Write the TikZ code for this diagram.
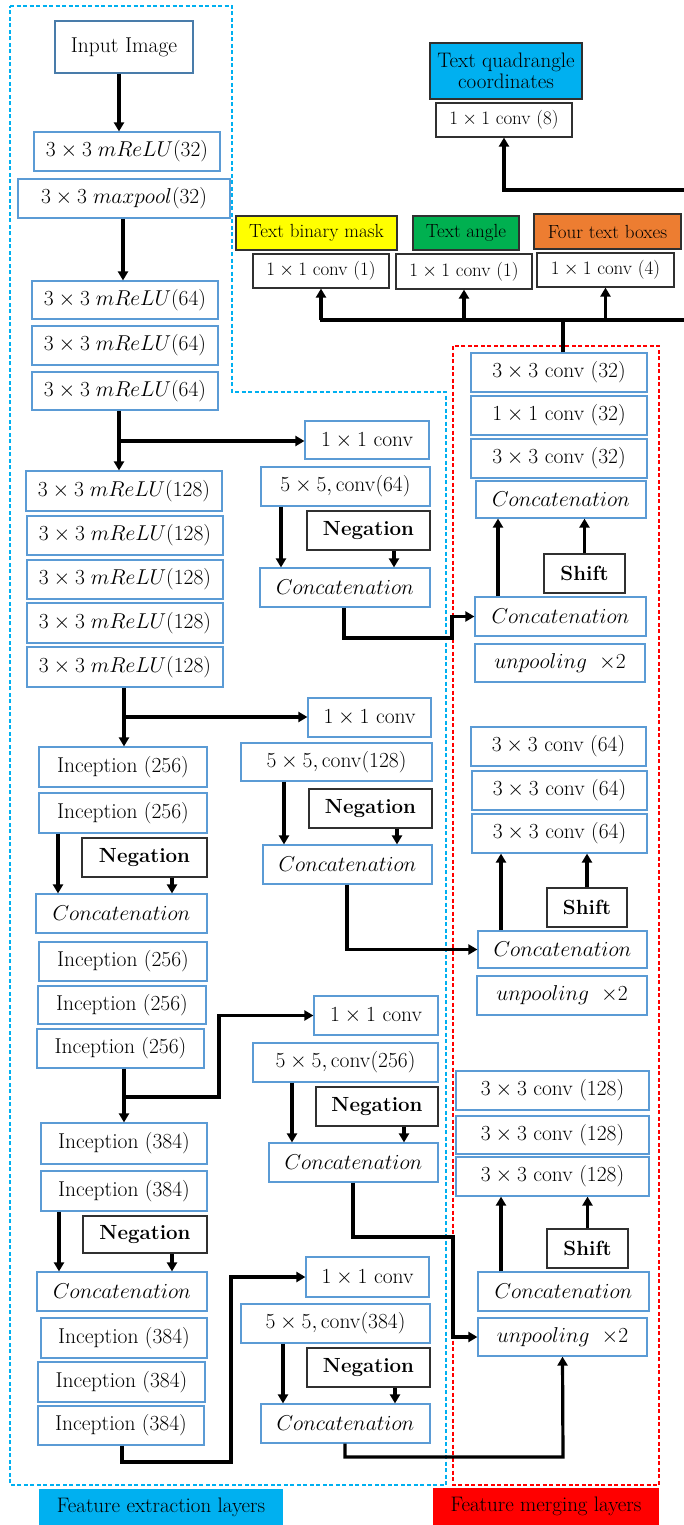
\RequirePackage{fix-cm}
\documentclass[tikz,border=0pt]{standalone}
\usetikzlibrary{arrows.meta}
\definecolor{bluebd}{HTML}{5B9BD5}
\definecolor{cyanfill}{HTML}{00B0F0}
\definecolor{ylw}{HTML}{FFFF00}
\definecolor{grn}{HTML}{00B050}
\definecolor{org}{HTML}{ED7D31}
\definecolor{redc}{HTML}{FF0000}
\definecolor{darkbd}{HTML}{303030}
\newcommand{\boxat}[7]{\node[#1, minimum width={#5-#3}, minimum height={#6-#4}] (#2) at ({(#3+#5)/2},{(#4+#6)/2}) {#7};}
\newcommand{\mrelu}[1]{$3\times3\;mReLU(#1)$}
\newcommand{\concat}{$Concatenation$}
\newcommand{\unpool}{$unpooling\;\;{\times}2$}
\tikzset{
  bluebox/.style={draw=bluebd, line width=1.2pt, fill=white, inner sep=0pt, font=\fontsize{21.5}{24}\selectfont},
  blackbox/.style={draw=darkbd, line width=1.3pt, fill=white, inner sep=0pt, font=\fontsize{20.5}{23}\selectfont\bfseries},
  topbox/.style={draw=darkbd, line width=1.2pt, inner sep=0pt, align=center, font=\fontsize{19}{21}\selectfont},
  legend/.style={inner sep=0pt, font=\fontsize{21}{24}\selectfont},
  conn/.style={line width=3.2pt, draw=black},
  arrow/.style={conn, -{Triangle[length=9pt,width=10pt]}},
  region/.style={line width=1.3pt, dash pattern=on 4pt off 2.5pt}
}
\begin{document}
\begin{tikzpicture}[x=1pt,y=-1pt]
\useasboundingbox (0,0) rectangle (684,1525);
% regions
\draw[region, draw=cyanfill] (10,6) -- (232,6) -- (232,392) -- (446,392) -- (446,1485) -- (10,1485) -- cycle;
\draw[region, draw=redc] (453,346) rectangle (659,1485);
\boxat{legend,fill=cyanfill}{lfe}{39}{1489}{283}{1525}{Feature extraction layers}
\boxat{legend,fill=redc}{lfm}{433}{1488}{659}{1525}{Feature merging layers}
% top outputs
\boxat{topbox,fill=cyanfill,font=\fontsize{21}{21.5}\selectfont}{tq}{430}{43}{582}{99}{Text quadrangle\\coordinates}
\boxat{topbox,fill=white}{c8}{436}{103}{572}{137}{$1\times1$ conv (8)}
\boxat{topbox,fill=ylw}{tbm}{236}{216}{397}{250}{Text binary mask}
\boxat{topbox,fill=grn}{ta}{413}{216}{519}{250}{Text angle}
\boxat{topbox,fill=org}{ftb}{534}{214}{681}{249}{Four text boxes}
\boxat{topbox,fill=white}{c1a}{253}{254}{389}{288}{$1\times1$ conv (1)}
\boxat{topbox,fill=white}{c1b}{396}{254}{532}{289}{$1\times1$ conv (1)}
\boxat{topbox,fill=white}{c4}{537}{253}{674}{287}{$1\times1$ conv (4)}
% left column
\boxat{bluebox,draw=bluebd!80!black}{inp}{55}{21}{193}{73}{Input Image}
\boxat{bluebox}{m32}{34}{132}{220}{171}{\mrelu{32}}
\boxat{bluebox}{mp32}{18}{179}{230}{218}{$3\times3\;maxpool(32)$}
\boxat{bluebox}{m64a}{32}{281}{218}{319}{\mrelu{64}}
\boxat{bluebox}{m64b}{32}{326}{218}{365}{\mrelu{64}}
\boxat{bluebox}{m64c}{32}{372}{218}{410}{\mrelu{64}}
\boxat{bluebox}{m128a}{26}{471}{222}{511}{\mrelu{128}}
\boxat{bluebox}{m128b}{27}{516}{223}{555}{\mrelu{128}}
\boxat{bluebox}{m128c}{27}{560}{223}{599}{\mrelu{128}}
\boxat{bluebox}{m128d}{27}{603}{223}{643}{\mrelu{128}}
\boxat{bluebox}{m128e}{27}{647}{223}{687}{\mrelu{128}}
\boxat{bluebox}{i256a}{39}{747}{207}{787}{Inception (256)}
\boxat{bluebox}{i256b}{39}{793}{207}{833}{Inception (256)}
\boxat{blackbox}{negl1}{82}{838}{207}{877}{Negation}
\boxat{bluebox}{catl1}{36}{894}{207}{933}{\concat}
\boxat{bluebox}{i256c}{39}{942}{207}{981}{Inception (256)}
\boxat{bluebox}{i256d}{38}{986}{206}{1024}{Inception (256)}
\boxat{bluebox}{i256e}{37}{1029}{204}{1068}{Inception (256)}
\boxat{bluebox}{i384a}{41}{1123}{207}{1164}{Inception (384)}
\boxat{bluebox}{i384b}{41}{1171}{207}{1211}{Inception (384)}
\boxat{blackbox}{negl2}{83}{1216}{207}{1253}{Negation}
\boxat{bluebox}{catl2}{37}{1272}{207}{1311}{\concat}
\boxat{bluebox}{i384c}{41}{1318}{207}{1358}{Inception (384)}
\boxat{bluebox}{i384d}{38}{1362}{205}{1402}{Inception (384)}
\boxat{bluebox}{i384e}{38}{1406}{204}{1445}{Inception (384)}
% middle column
\boxat{bluebox}{cv1a}{305}{421}{429}{459}{$1\times1$ conv}
\boxat{bluebox}{c5a}{261}{467}{430}{506}{$5\times5,\mathrm{conv}(64)$}
\boxat{blackbox}{nega}{307}{511}{430}{550}{Negation}
\boxat{bluebox}{cata}{260}{568}{430}{607}{\concat}
\boxat{bluebox}{cv1b}{308}{698}{431}{737}{$1\times1$ conv}
\boxat{bluebox}{c5b}{241}{743}{432}{781}{$5\times5,\mathrm{conv}(128)$}
\boxat{blackbox}{negb}{309}{789}{432}{828}{Negation}
\boxat{bluebox}{catb}{263}{845}{432}{884}{\concat}
\boxat{bluebox}{cv1c}{314}{996}{438}{1035}{$1\times1$ conv}
\boxat{bluebox}{c5c}{253}{1043}{438}{1082}{$5\times5,\mathrm{conv}(256)$}
\boxat{blackbox}{negc}{316}{1087}{438}{1126}{Negation}
\boxat{bluebox}{catc}{269}{1143}{438}{1182}{\concat}
\boxat{bluebox}{cv1d}{306}{1257}{429}{1297}{$1\times1$ conv}
\boxat{bluebox}{c5d}{241}{1304}{430}{1343}{$5\times5,\mathrm{conv}(384)$}
\boxat{blackbox}{negd}{307}{1348}{430}{1387}{Negation}
\boxat{bluebox}{catd}{261}{1404}{430}{1443}{\concat}
% right column
\boxat{bluebox}{r32a}{471}{353}{647}{392}{$3\times3$ conv (32)}
\boxat{bluebox}{r32b}{471}{396}{647}{435}{$1\times1$ conv (32)}
\boxat{bluebox}{r32c}{471}{439}{647}{478}{$3\times3$ conv (32)}
\boxat{bluebox}{catu1}{476}{481}{646}{518}{\concat}
\boxat{blackbox}{sh1}{544}{554}{625}{593}{Shift}
\boxat{bluebox}{catr1}{475}{597}{646}{636}{\concat}
\boxat{bluebox}{unp1}{475}{644}{645}{682}{\unpool}
\boxat{bluebox}{r64a}{471}{727}{646}{766}{$3\times3$ conv (64)}
\boxat{bluebox}{r64b}{472}{771}{647}{810}{$3\times3$ conv (64)}
\boxat{bluebox}{r64c}{472}{814}{647}{853}{$3\times3$ conv (64)}
\boxat{blackbox}{sh2}{547}{888}{627}{927}{Shift}
\boxat{bluebox}{catr2}{478}{931}{647}{968}{\concat}
\boxat{bluebox}{unp2}{477}{976}{647}{1015}{\unpool}
\boxat{bluebox}{r128a}{456}{1071}{649}{1110}{$3\times3$ conv (128)}
\boxat{bluebox}{r128b}{456}{1116}{649}{1154}{$3\times3$ conv (128)}
\boxat{bluebox}{r128c}{456}{1157}{649}{1196}{$3\times3$ conv (128)}
\boxat{blackbox}{sh3}{547}{1229}{628}{1268}{Shift}
\boxat{bluebox}{catr3}{478}{1272}{649}{1311}{\concat}
\boxat{bluebox}{unp3}{478}{1318}{647}{1356}{\unpool}
% coordinates for free ends
\coordinate (busL) at (320,320);
\coordinate (busR) at (684,320);
\coordinate (topR) at (684,190);
% top connectors
\draw[conn] (busL) -- (busR);
\draw[conn] (563,0 |- r32a.north) -- (563,0 |- busR);
\foreach \n in {c1a,c1b,c4} \draw[arrow] (\n.south |- busR) -- (\n.south);
\draw[arrow] (topR) -| (c8.south);
% left column connectors
\draw[arrow] (119,0 |- inp.south) -- (119,0 |- m32.north);
\draw[arrow] (123,0 |- mp32.south) -- (123,0 |- m64a.north);
\draw[arrow] (119,0 |- m64c.south) -- (119,0 |- m128a.north);
\draw[arrow] (119,441) -- (cv1a.west |- 0,441);
\draw[arrow] (124,0 |- m128e.south) -- (124,0 |- i256a.north);
\draw[arrow] (124,717) -- (cv1b.west |- 0,717);
\draw[arrow] (58,0 |- i256b.south) -- (58,0 |- catl1.north);
\draw[arrow] (172,0 |- negl1.south) -- (172,0 |- catl1.north);
\draw[arrow] (124,0 |- i256e.south) -- (124,0 |- i384a.north);
\draw[arrow] (124,1097) -- (219,1097) |- (cv1c.west);
\draw[arrow] (59,0 |- i384b.south) -- (59,0 |- catl2.north);
\draw[arrow] (172,0 |- negl2.south) -- (172,0 |- catl2.north);
\draw[arrow] (122,0 |- i384e.south) |- (231,1462) |- (cv1d.west);
% middle connectors
\draw[arrow] (281,0 |- c5a.south) -- (281,0 |- cata.north);
\draw[arrow] (394,0 |- nega.south) -- (394,0 |- cata.north);
\draw[arrow] (344,0 |- cata.south) |- (452,638) |- (catr1.west);
\draw[arrow] (284,0 |- c5b.south) -- (284,0 |- catb.north);
\draw[arrow] (397,0 |- negb.south) -- (397,0 |- catb.north);
\draw[arrow] (347,0 |- catb.south) |- (catr2.west);
\draw[arrow] (292,0 |- c5c.south) -- (292,0 |- catc.north);
\draw[arrow] (404,0 |- negc.south) -- (404,0 |- catc.north);
\draw[arrow] (353,0 |- catc.south) |- (453,1237) |- (unp3.west);
\draw[arrow] (283,0 |- c5d.south) -- (283,0 |- catd.north);
\draw[arrow] (395,0 |- negd.south) -- (395,0 |- catd.north);
\draw[arrow] (345,0 |- catd.south) |- (563,1457) -- (unp3.south);
% right connectors
\draw[arrow] (498,0 |- catr1.north) -- (498,0 |- catu1.south);
\draw[arrow] (sh1.north) -- (sh1.north |- catu1.south);
\draw[arrow] (501,0 |- catr2.north) -- (501,0 |- r64c.south);
\draw[arrow] (sh2.north) -- (sh2.north |- r64c.south);
\draw[arrow] (501,0 |- catr3.north) -- (501,0 |- r128c.south);
\draw[arrow] (sh3.north) -- (sh3.north |- r128c.south);
\end{tikzpicture}
\end{document}
